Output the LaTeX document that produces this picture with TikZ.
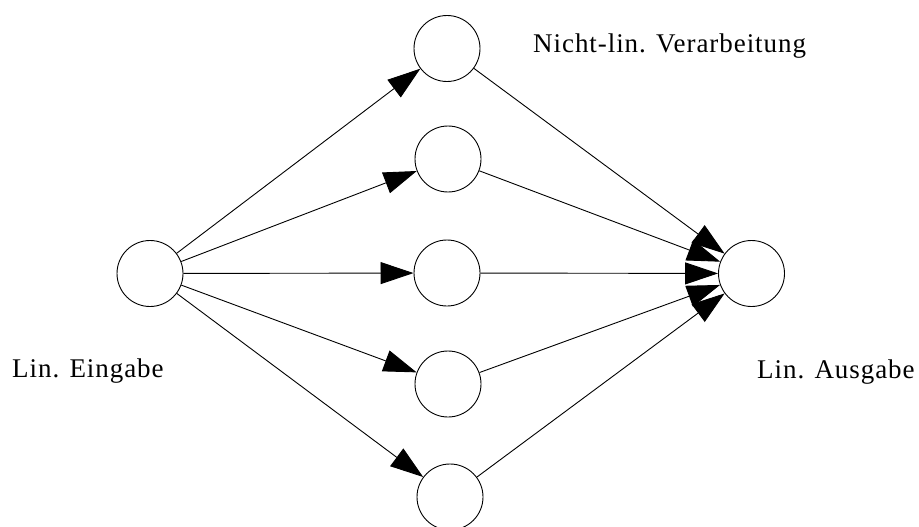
\documentclass[tikz,border=0pt]{standalone}
\usepackage{fontspec}
\setmainfont{Liberation Serif}[LetterSpace=3.5]
\usetikzlibrary{arrows.meta}
\begin{document}
\begin{tikzpicture}[x=1pt,y=-1pt,
  neuron/.style={draw,circle,minimum size=66pt,inner sep=0pt,line width=0.9pt},
  conn/.style={line width=0.9pt,-{Triangle[length=33pt,width=22pt]}},
  lbl/.style={font=\fontsize{27}{31}\selectfont,inner sep=0pt,anchor=base west}]
\useasboundingbox (0,0) rectangle (919,527);
\node[neuron] (in) at (150,273.5) {};
\node[neuron] (h1) at (447,48.5) {};
\node[neuron] (h2) at (448,159) {};
\node[neuron] (h3) at (447,273) {};
\node[neuron] (h4) at (448,384) {};
\node[neuron] (h5) at (450,497) {};
\node[neuron] (out) at (751.5,273.5) {};
\foreach \h in {h1,h2,h3,h4,h5}{
  \draw[conn] (in) -- (\h);
  \draw[conn] (\h) -- (out);
}
\node[lbl] (t1) at (533,53) {Nicht-lin. Verarbeitung};
\node[lbl] (t2) at (12,377) {Lin. Eingabe};
\node[lbl] (t3) at (757,378) {Lin. Ausgabe};
\end{tikzpicture}
\end{document}
